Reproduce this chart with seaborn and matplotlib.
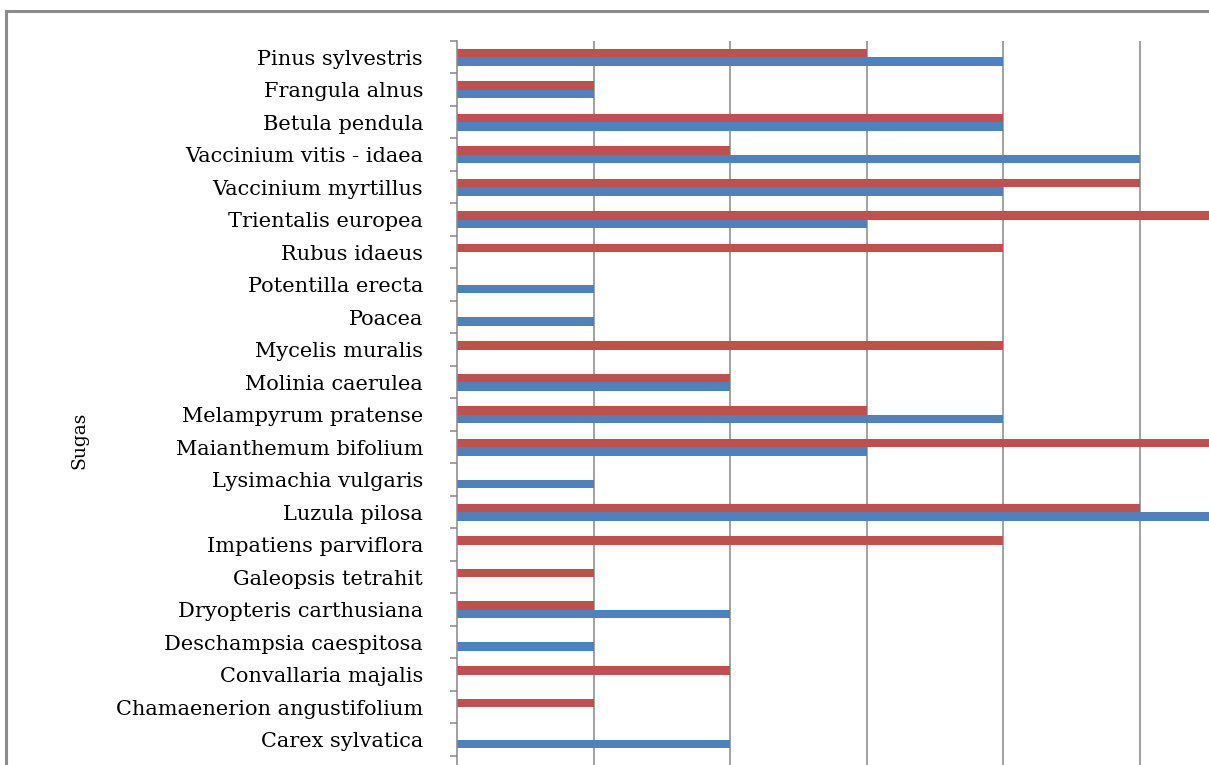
import matplotlib
matplotlib.use("Agg")
import matplotlib.pyplot as plt
import seaborn as sns
import pandas as pd
import numpy as np
from matplotlib.patches import Rectangle

species = [
    "Pinus sylvestris", "Frangula alnus", "Betula pendula", "Vaccinium vitis - idaea",
    "Vaccinium myrtillus", "Trientalis europea", "Rubus idaeus", "Potentilla erecta",
    "Poacea", "Mycelis muralis", "Molinia caerulea", "Melampyrum pratense",
    "Maianthemum bifolium", "Lysimachia vulgaris", "Luzula pilosa", "Impatiens parviflora",
    "Galeopsis tetrahit", "Dryopteris carthusiana", "Deschampsia caespitosa",
    "Convallaria majalis", "Chamaenerion angustifolium", "Carex sylvatica", "Carex remota",
]
series_red = [3, 1, 4, 2, 5, 6, 4, 0, 0, 4, 2, 3, 6, 0, 5, 4, 1, 1, 0, 2, 1, 0, 0]
series_blue = [4, 1, 4, 5, 4, 3, 0, 1, 1, 0, 2, 4, 3, 1, 6, 0, 0, 2, 1, 0, 0, 2, 0]
series_names = ["Series 1", "Series 2"]
colors = ["#C0504D", "#4F81BD"]

df = pd.DataFrame({
    "Sugas": species * 2,
    "value": series_red + series_blue,
    "series": [series_names[0]] * len(species) + [series_names[1]] * len(species),
})

sns.set_theme(style="white")
plt.rcParams["font.family"] = ["DejaVu Serif", "Liberation Serif"]
plt.rcParams["text.color"] = "black"
plt.rcParams["axes.labelcolor"] = "black"
plt.rcParams["ytick.color"] = "black"

W, H = 1209, 765
fig = plt.figure(figsize=(W / 100, H / 100), dpi=100)
fig.patch.set_facecolor("white")

# chart frame (cropped)
fig.patches.append(Rectangle((5.5 / W, -0.2), 1.5, 1.2 - 11 / H, transform=fig.transFigure,
                             fill=False, edgecolor="#8c8c8c", linewidth=2.2, zorder=0))

n = len(species)
top_px, step = 41.0, 32.5
left_px, unit = 457.0, 136.6
xmax = 6
ax = fig.add_axes([left_px / W, 1 - (top_px + step * n) / H,
                   unit * xmax / W, step * n / H])

sns.barplot(data=df, y="Sugas", x="value", hue="series", orient="h",
            palette=colors, width=0.52, ax=ax, legend=False, saturation=1,
            linewidth=0)

ax.set_xlim(0, xmax)
ax.set_ylim(n - 0.5, -0.5)
ax.set_xticks(np.arange(1, xmax + 1))
ax.set_xticklabels([])
ax.tick_params(axis="x", length=0)
ax.grid(axis="x", color="#878787", linewidth=1.1)
ax.set_axisbelow(True)
for s in ["top", "right", "bottom"]:
    ax.spines[s].set_visible(False)
ax.spines["left"].set_color("#878787")
ax.spines["left"].set_linewidth(1.1)

ax.set_yticks(np.arange(n))
ax.set_yticklabels(species, fontsize=15, color="black")
ax.set_yticks(np.arange(-0.5, n, 1), minor=True)
ax.tick_params(axis="y", which="major", length=0, pad=34 / 1.39)
ax.tick_params(axis="y", which="minor", length=5, width=1.1, color="#878787", left=True)
ax.set_xlabel("")
ax.set_ylabel("Sugas", fontsize=13.5, color="black")
ax.yaxis.set_label_coords((88 - left_px) / (unit * xmax), (top_px + step * n - 440) / (step * n))

fig.savefig("out.png", dpi=100, facecolor="white")
